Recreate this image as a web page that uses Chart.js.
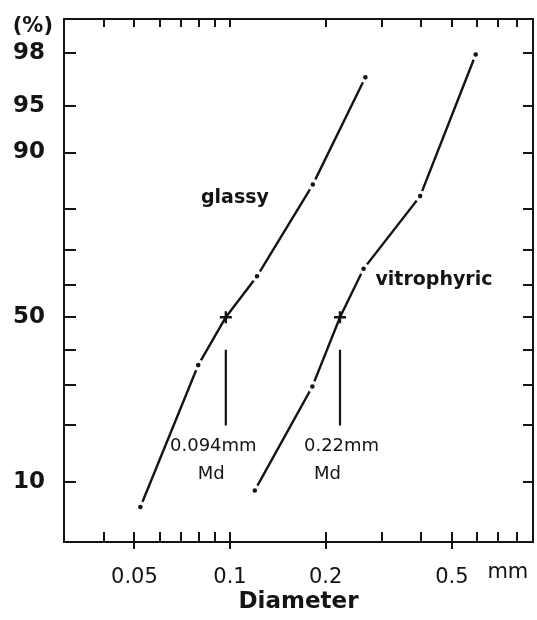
<!DOCTYPE html>
<html>
<head>
<meta charset="utf-8">
<script src="https://cdn.jsdelivr.net/npm/chart.js@4.4.1/dist/chart.umd.min.js"></script>
<style>
  html, body { margin: 0; padding: 0; background: #fff; }
  #wrap { width: 537px; height: 620px; }
</style>
</head>
<body>
<div id="wrap"><canvas id="grainChart" width="537" height="620"></canvas></div>
<script>
// Cumulative grain size curves (probability paper, log diameter)
const glassyDiameter = [0.0522, 0.0794, 0.097, 0.1216, 0.1823, 0.2669];
const glassyPercent = [7.0, 35.5, 50, 62.5, 84.9, 96.9];
const vitroDiameter = [0.1197, 0.1817, 0.222, 0.2634, 0.397, 0.594];
const vitroPercent = [8.9, 29.5, 50, 64.7, 82.7, 97.95];

// median markers (Md) and their leader lines
const medianDiameters = [0.097, 0.222];
const medianLabels = ['0.094mm', '0.22mm'];
const leaderPercent = [40, 20];

// axis ticks
const percentTicks = [10, 20, 30, 40, 50, 60, 70, 80, 90, 95, 98];
const percentLabels = [10, 50, 90, 95, 98];
const diameterTicks = [0.04, 0.05, 0.06, 0.07, 0.08, 0.09, 0.1, 0.2, 0.3, 0.4, 0.5, 0.6, 0.7, 0.8];
const diameterLabels = [0.05, 0.1, 0.2, 0.5];

const INK = '#141414';

// inverse normal CDF (Acklam) - maps percent to probit value
function probit(pct) {
    const p = pct / 100;
    const a = [-39.69683028665376, 220.9460984245205, -275.9285104469687, 138.3577518672690, -30.66479806614716, 2.506628277459239];
    const b = [-54.47609879822406, 161.5858368580409, -155.6989798598866, 66.80131188771972, -13.28068155288572];
    const c = [-0.007784894002430293, -0.3223964580411365, -2.400758277161838, -2.549732539343734, 4.374664141464968, 2.938163982698783];
    const d = [0.007784695709041462, 0.3224671290700398, 2.445134137142996, 3.754408661907416];
    const pl = 0.02425;
    let q, r;
    if (p < pl) {
        q = Math.sqrt(-2 * Math.log(p));
        return (((((c[0]*q+c[1])*q+c[2])*q+c[3])*q+c[4])*q+c[5]) / ((((d[0]*q+d[1])*q+d[2])*q+d[3])*q+1);
    }
    if (p > 1 - pl) {
        q = Math.sqrt(-2 * Math.log(1 - p));
        return -(((((c[0]*q+c[1])*q+c[2])*q+c[3])*q+c[4])*q+c[5]) / ((((d[0]*q+d[1])*q+d[2])*q+d[3])*q+1);
    }
    q = p - 0.5;
    r = q * q;
    return (((((a[0]*r+a[1])*r+a[2])*r+a[3])*r+a[4])*r+a[5])*q / (((((b[0]*r+b[1])*r+b[2])*r+b[3])*r+b[4])*r+1);
}

function toPoints(xs, ys) {
    return xs.map((x, i) => ({ x: x, y: probit(ys[i]) }));
}

// points get a white ring so the line breaks around each dot; median is a cross
function curveDataset(xs, ys) {
    const styles = ys.map(v => v === 50 ? 'cross' : 'circle');
    return {
        data: toPoints(xs, ys),
        borderColor: INK,
        borderWidth: 2.4,
        tension: 0,
        pointStyle: styles,
        pointRadius: styles.map(s => s === 'cross' ? 6 : 4),
        pointBackgroundColor: INK,
        pointBorderColor: styles.map(s => s === 'cross' ? INK : '#ffffff'),
        pointBorderWidth: styles.map(s => s === 'cross' ? 2.4 : 3.4)
    };
}

const datasets = [
    curveDataset(glassyDiameter, glassyPercent),
    curveDataset(vitroDiameter, vitroPercent)
];
medianDiameters.forEach(md => {
    datasets.push({
        data: leaderPercent.map(p => ({ x: md, y: probit(p) })),
        borderColor: INK,
        borderWidth: 2.2,
        pointRadius: 0
    });
});

// inward tick marks on all four sides
const tickMarks = {
    id: 'tickMarks',
    afterDraw(chart) {
        const ctx = chart.ctx;
        const area = chart.chartArea;
        const xs = chart.scales.x;
        const ys = chart.scales.y;
        ctx.save();
        ctx.strokeStyle = INK;
        ctx.lineWidth = 2;
        ctx.beginPath();
        diameterTicks.forEach(v => {
            const px = Math.round(xs.getPixelForValue(v));
            const major = diameterLabels.includes(v);
            ctx.moveTo(px, area.bottom - 10);
            ctx.lineTo(px, area.bottom + (major ? 7 : 0));
            ctx.moveTo(px, area.top);
            ctx.lineTo(px, area.top + 8);
        });
        percentTicks.forEach(v => {
            const py = Math.round(ys.getPixelForValue(probit(v)));
            ctx.moveTo(area.left, py);
            ctx.lineTo(area.left + 12, py);
            ctx.moveTo(area.right, py);
            ctx.lineTo(area.right - 10, py);
        });
        ctx.stroke();
        ctx.restore();
    }
};

// curve names, median labels and unit labels
const annotations = {
    id: 'annotations',
    afterDatasetsDraw(chart) {
        const ctx = chart.ctx;
        const area = chart.chartArea;
        const xs = chart.scales.x;
        const ys = chart.scales.y;
        const px = v => xs.getPixelForValue(v);
        const py = v => ys.getPixelForValue(probit(v));
        ctx.save();
        ctx.fillStyle = INK;
        ctx.textBaseline = 'middle';

        ctx.font = 'bold 19px "DejaVu Sans"';
        ctx.textAlign = 'left';
        ctx.fillText('glassy', px(0.081), py(82.3));
        ctx.fillText('vitrophyric', px(0.287), py(61.3));

        ctx.font = '18px "DejaVu Sans"';
        ctx.textAlign = 'center';
        ctx.fillText(medianLabels[0], px(0.0886), py(15.8));
        ctx.fillText('Md', px(0.0872), py(11.1));
        ctx.fillText(medianLabels[1], px(0.2245), py(15.8));
        ctx.fillText('Md', px(0.2027), py(11.1));

        ctx.font = '21px "DejaVu Sans"';
        ctx.fillText('mm', px(0.75), area.bottom + 31);

        ctx.font = 'bold 21px "DejaVu Sans"';
        ctx.textAlign = 'right';
        ctx.fillText('(%)', area.left - 11, area.top + 8);
        ctx.restore();
    }
};

// fix axis thickness and drop the label overhang padding chart.js adds
function fixedSize(key, size) {
    return function (scale) {
        scale[key] = size;
        scale.paddingTop = 0;
        scale.paddingBottom = 0;
        scale.paddingLeft = 0;
        scale.paddingRight = 0;
    };
}

new Chart(document.getElementById('grainChart').getContext('2d'), {
    type: 'line',
    data: { datasets: datasets },
    options: {
        responsive: false,
        animation: false,
        layout: { padding: 0, autoPadding: false },
        plugins: {
            legend: { display: false },
            tooltip: { enabled: false }
        },
        scales: {
            x: {
                type: 'logarithmic',
                position: 'bottom',
                min: 0.03,
                max: 0.9,
                afterFit: fixedSize('height', 78),
                afterBuildTicks: scale => { scale.ticks = diameterLabels.map(v => ({ value: v })); },
                grid: { display: false, drawTicks: false },
                border: { display: true, color: INK, width: 2 },
                ticks: {
                    color: INK,
                    padding: 23,
                    maxRotation: 0,
                    autoSkip: false,
                    font: { family: 'DejaVu Sans', size: 21 },
                    callback: v => String(v)
                },
                title: {
                    display: true,
                    text: 'Diameter',
                    color: INK,
                    font: { family: 'DejaVu Sans', size: 23, weight: 'bold' },
                    padding: { top: 5 }
                }
            },
            xTop: {
                type: 'logarithmic',
                position: 'top',
                min: 0.03,
                max: 0.9,
                afterFit: fixedSize('height', 19),
                grid: { display: false, drawTicks: false },
                border: { display: true, color: INK, width: 2 },
                ticks: { display: false }
            },
            y: {
                type: 'linear',
                position: 'left',
                min: -1.748,
                max: 2.32,
                afterFit: fixedSize('width', 64),
                afterBuildTicks: scale => { scale.ticks = percentLabels.map(p => ({ value: probit(p) })); },
                grid: { display: false, drawTicks: false },
                border: { display: true, color: INK, width: 2 },
                ticks: {
                    color: INK,
                    padding: 19,
                    autoSkip: false,
                    font: { family: 'DejaVu Sans', size: 23, weight: 'bold' },
                    callback: function (value, index) { return String(percentLabels[index]); }
                }
            },
            yRight: {
                type: 'linear',
                position: 'right',
                min: -1.748,
                max: 2.32,
                afterFit: fixedSize('width', 4),
                grid: { display: false, drawTicks: false },
                border: { display: true, color: INK, width: 2 },
                ticks: { display: false }
            }
        }
    },
    plugins: [tickMarks, annotations]
});
</script>
</body>
</html>
